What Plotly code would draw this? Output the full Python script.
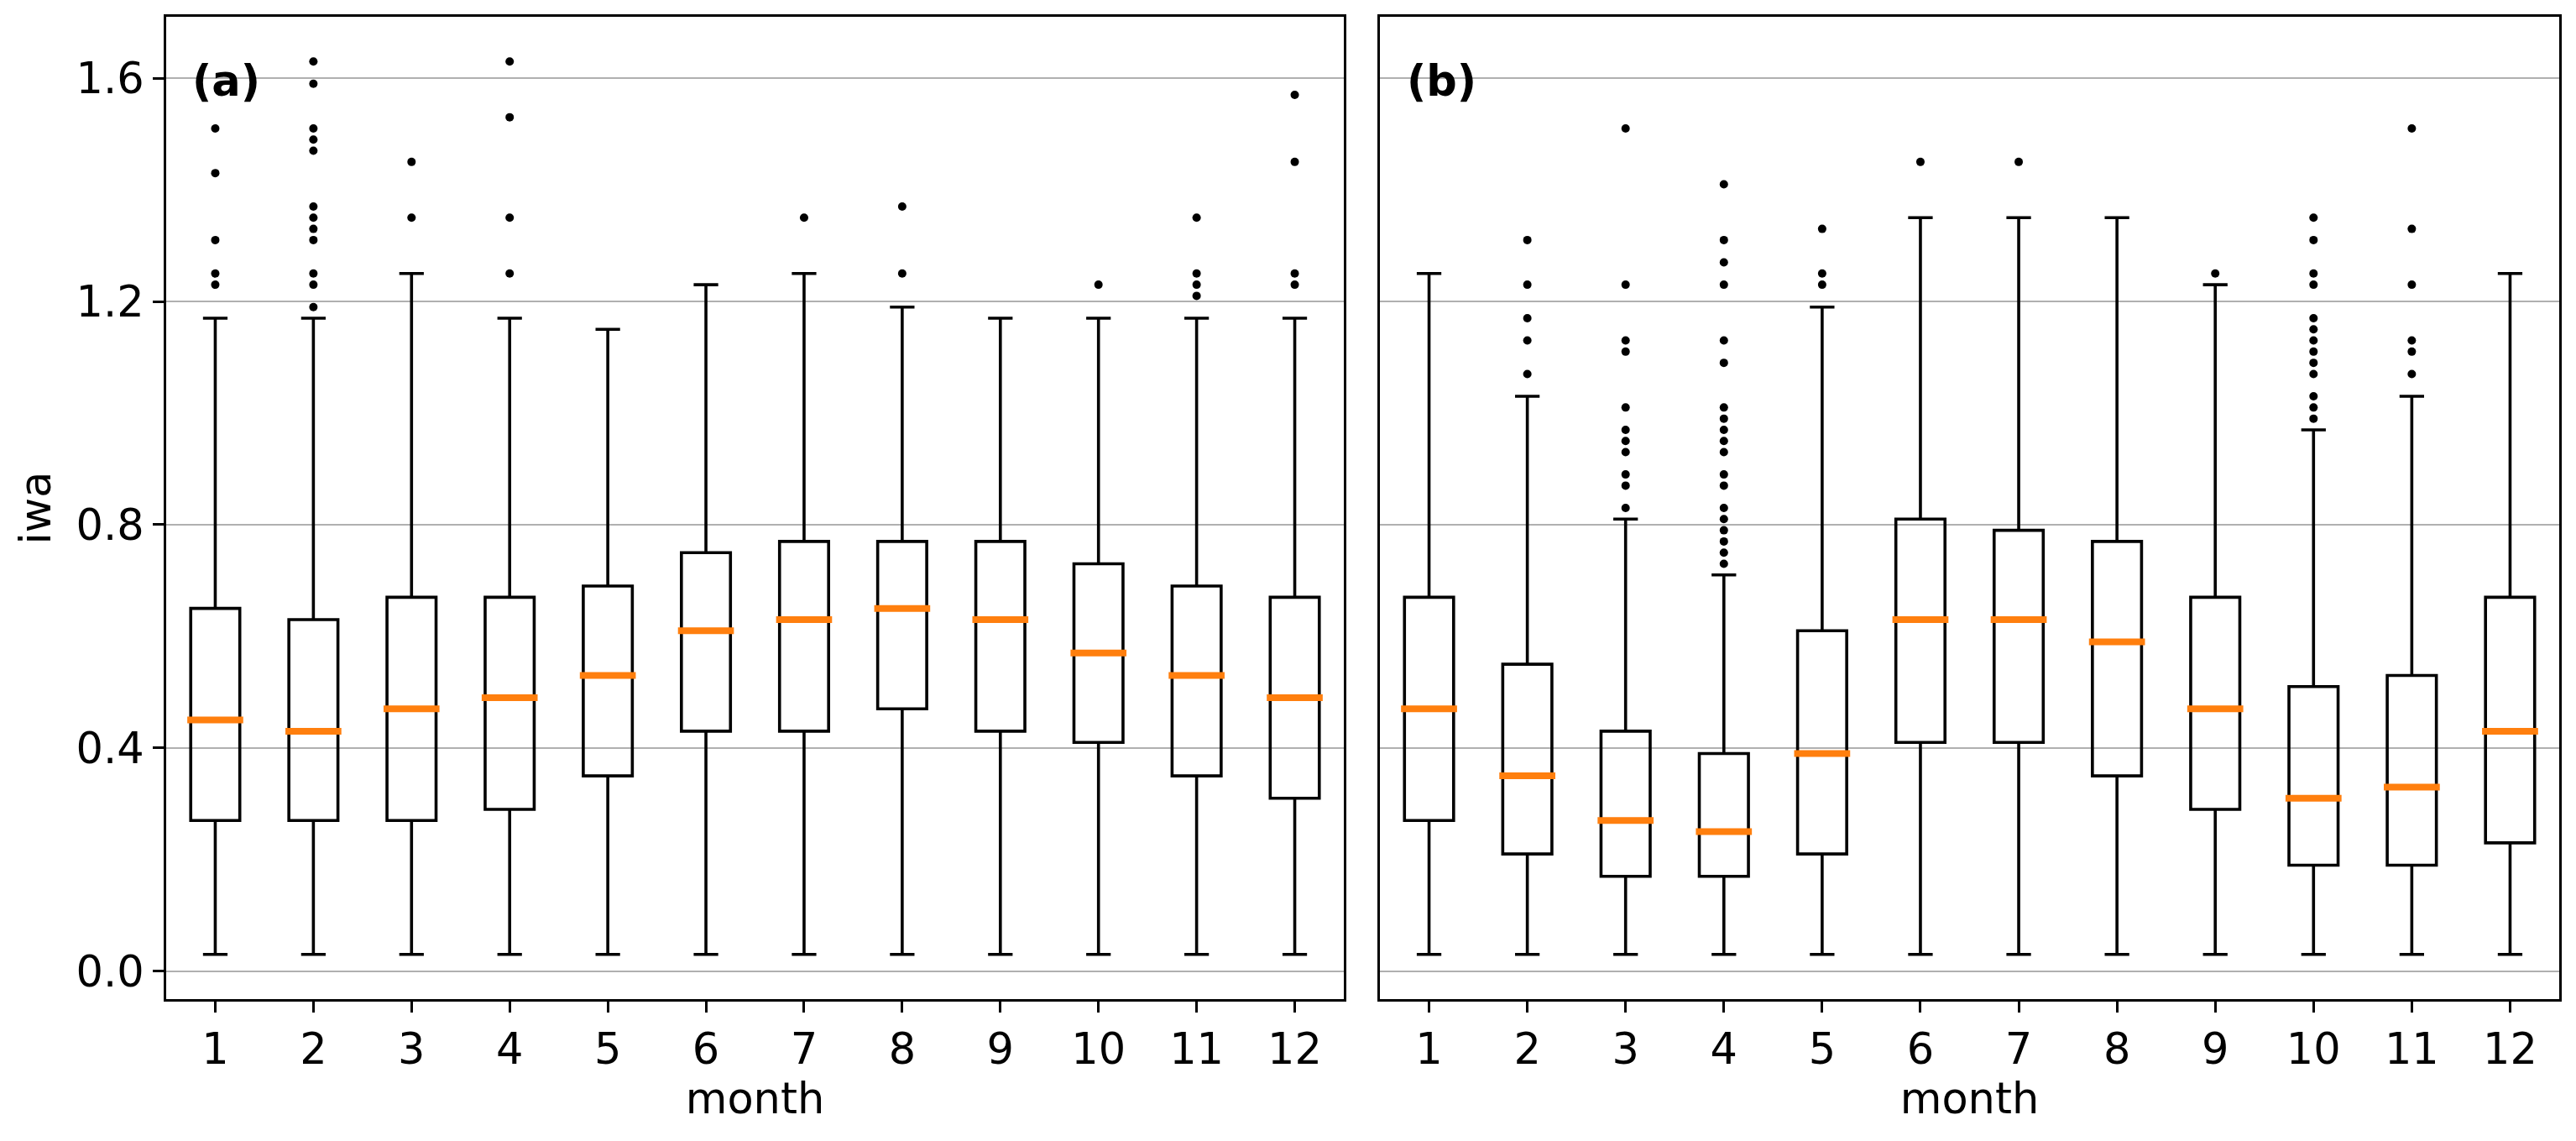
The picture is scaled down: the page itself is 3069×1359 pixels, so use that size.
import plotly.graph_objects as go

months = list(range(1, 13))

# Panel (a)
a_q1 = [0.27, 0.27, 0.27, 0.29, 0.35, 0.43, 0.43, 0.47, 0.43, 0.41, 0.35, 0.31]
a_med = [0.45, 0.43, 0.47, 0.49, 0.53, 0.61, 0.63, 0.65, 0.63, 0.57, 0.53, 0.49]
a_q3 = [0.65, 0.63, 0.67, 0.67, 0.69, 0.75, 0.77, 0.77, 0.77, 0.73, 0.69, 0.67]
a_low = [0.03] * 12
a_high = [1.17, 1.17, 1.25, 1.17, 1.15, 1.23, 1.25, 1.19, 1.17, 1.17, 1.17, 1.17]
a_out = [
    [1.51, 1.43, 1.31, 1.25, 1.23],
    [1.63, 1.59, 1.51, 1.49, 1.47, 1.37, 1.35, 1.33, 1.31, 1.25, 1.23, 1.19],
    [1.45, 1.35],
    [1.63, 1.53, 1.35, 1.25],
    [],
    [],
    [1.35],
    [1.37, 1.25],
    [],
    [1.23],
    [1.35, 1.25, 1.23, 1.21],
    [1.57, 1.45, 1.25, 1.23],
]

# Panel (b)
b_q1 = [0.27, 0.21, 0.17, 0.17, 0.21, 0.41, 0.41, 0.35, 0.29, 0.19, 0.19, 0.23]
b_med = [0.47, 0.35, 0.27, 0.25, 0.39, 0.63, 0.63, 0.59, 0.47, 0.31, 0.33, 0.43]
b_q3 = [0.67, 0.55, 0.43, 0.39, 0.61, 0.81, 0.79, 0.77, 0.67, 0.51, 0.53, 0.67]
b_low = [0.03] * 12
b_high = [1.25, 1.03, 0.81, 0.71, 1.19, 1.35, 1.35, 1.35, 1.23, 0.97, 1.03, 1.25]
b_out = [
    [],
    [1.31, 1.23, 1.17, 1.13, 1.07],
    [1.51, 1.23, 1.13, 1.11, 1.01, 0.97, 0.95, 0.93, 0.89, 0.87, 0.83],
    [1.41, 1.31, 1.27, 1.23, 1.13, 1.09, 1.01, 0.99, 0.97, 0.95, 0.93, 0.89,
     0.87, 0.83, 0.81, 0.79, 0.77, 0.75, 0.73],
    [1.33, 1.25, 1.23],
    [1.45],
    [1.45],
    [],
    [1.25],
    [1.35, 1.31, 1.25, 1.23, 1.17, 1.15, 1.13, 1.11, 1.09, 1.07, 1.03, 1.01, 0.99],
    [1.51, 1.33, 1.23, 1.13, 1.11, 1.07],
    [],
]

y_ticks = [0.0, 0.4, 0.8, 1.2, 1.6]
y_tick_text = ["0.0", "0.4", "0.8", "1.2", "1.6"]
panel_labels = ["(a)", "(b)"]

WIN_W, WIN_H = 3069, 1359
OFF = 8  # default body margin of the page
W, H = WIN_W - 2 * OFF, WIN_H - 2 * OFF
FONT = "DejaVu Sans"
FS = 51

fig = go.Figure()

panels = [
    ("x", "y", a_q1, a_med, a_q3, a_low, a_high, a_out),
    ("x2", "y2", b_q1, b_med, b_q3, b_low, b_high, b_out),
]

for xa, ya, q1, med, q3, lo, hi, outs in panels:
    fig.add_trace(go.Box(
        x=months, q1=q1, median=med, q3=q3, lowerfence=lo, upperfence=hi,
        xaxis=xa, yaxis=ya, width=0.5, whiskerwidth=0.5,
        line=dict(color="black", width=3.6), fillcolor="rgba(0,0,0,0)",
        boxpoints=False, showlegend=False, hoverinfo="skip",
    ))
    fig.add_trace(go.Box(
        x=months, q1=med, median=med, q3=med, lowerfence=med, upperfence=med,
        xaxis=xa, yaxis=ya, width=0.57, whiskerwidth=0,
        line=dict(color="#ff7f0e", width=8), fillcolor="rgba(0,0,0,0)",
        boxpoints=False, showlegend=False, hoverinfo="skip",
    ))
    ox, oy = [], []
    for m, vals in zip(months, outs):
        for v in vals:
            ox.append(m)
            oy.append(v)
    fig.add_trace(go.Scatter(
        x=ox, y=oy, mode="markers", xaxis=xa, yaxis=ya,
        marker=dict(color="black", size=10, line=dict(width=0)),
        showlegend=False, hoverinfo="skip",
    ))

def px_x(p):
    return (p - OFF) / W

def px_y(p):
    return 1 - (p - OFF) / H

xdom_a = [px_x(198), px_x(1601)]
xdom_b = [px_x(1644), px_x(3049)]
ydom = [px_y(1190), px_y(20)]

axis_common = dict(
    showline=True, mirror=True, linecolor="black", linewidth=3.2,
    ticks="outside", ticklen=13, tickwidth=3, tickcolor="black",
    tickfont=dict(family=FONT, size=FS, color="black"),
    zeroline=False, automargin=False,
)

fig.update_layout(
    width=W, height=H,
    margin=dict(l=0, r=0, t=0, b=0),
    paper_bgcolor="white", plot_bgcolor="white",
    boxmode="overlay",
    font=dict(family=FONT, size=FS, color="black"),
    xaxis=dict(domain=xdom_a, range=[0.5, 12.5], tickvals=months,
               showgrid=False, anchor="y",
               title=dict(text="month", font=dict(family=FONT, size=FS), standoff=10),
               **axis_common),
    xaxis2=dict(domain=xdom_b, range=[0.5, 12.5], tickvals=months,
                showgrid=False, anchor="y2",
                title=dict(text="month", font=dict(family=FONT, size=FS), standoff=10),
                **axis_common),
    yaxis=dict(domain=ydom, range=[-0.05, 1.71], tickvals=y_ticks, ticktext=y_tick_text,
               showgrid=True, gridcolor="#b0b0b0", gridwidth=2, anchor="x",
               title=dict(text="iwa", font=dict(family=FONT, size=FS), standoff=14),
               **axis_common),
    yaxis2=dict(domain=ydom, range=[-0.05, 1.71], tickvals=y_ticks,
                showgrid=True, gridcolor="#b0b0b0", gridwidth=2, anchor="x2",
                matches="y", showticklabels=False,
                showline=True, mirror=True, linecolor="black", linewidth=3.2,
                ticks="", zeroline=False, automargin=False),
)

for i, lbl in enumerate(panel_labels):
    fig.add_annotation(
        text="<b>%s</b>" % lbl,
        xref="x domain" if i == 0 else "x2 domain",
        yref="y domain" if i == 0 else "y2 domain",
        x=0.021, y=0.935, xanchor="left", yanchor="middle", showarrow=False,
        font=dict(family=FONT, size=FS, color="black"),
    )

fig.write_html("out.html")
